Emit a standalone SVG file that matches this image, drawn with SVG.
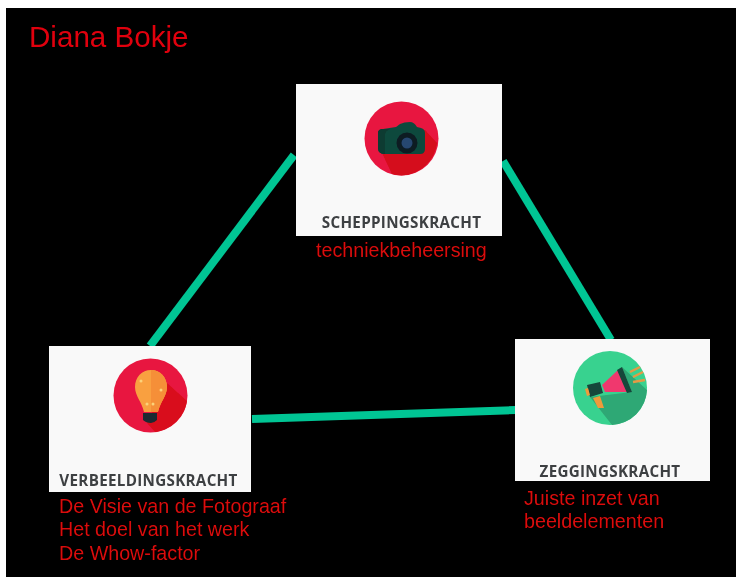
<svg xmlns="http://www.w3.org/2000/svg" width="736" height="577" viewBox="0 0 736 577">
<style>
.card{fill:#f9f9f9}
.lab{font:700 15.2px "Open Sans",sans-serif;fill:#3d3f42;letter-spacing:.3px}
.red{font:19.7px "Liberation Sans",Arial,sans-serif;fill:#d90a0a}
.link{stroke:#04c594;stroke-width:8;fill:none}
</style>
<defs><filter id="soft" x="0" y="0" width="100%" height="100%" filterUnits="objectBoundingBox"><feGaussianBlur stdDeviation="0.45"/></filter></defs>
<rect width="736" height="577" fill="#fff"/>
<rect x="6" y="8" width="730" height="569" fill="#000"/>
<g filter="url(#soft)">
<g id="connectors">
<line class="link" x1="294" y1="155" x2="150" y2="346"/>
<line class="link" x1="503" y1="161" x2="611" y2="340"/>
<line class="link" x1="252" y1="419" x2="516" y2="410"/>
</g>
<text id="title" x="29" y="47" font-family="Liberation Sans,Arial,sans-serif" font-size="29.6" fill="#e0060f">Diana Bokje</text>
<g id="scheppingskracht">
<rect class="card" x="296" y="84" width="206" height="152"/>
<circle cx="401.500" cy="138.500" r="37" fill="#e8183f"/>
<path d="M382 153L425 130L437 143A37 37 0 0 1 401.500 175.500A37 37 0 0 1 392 174Z" fill="#d5091a"/>
<path d="M378 133Q378 129 383 129L396 127L400 124Q404 122 410 122Q414 122 417 127L421 128Q425 129 425 133V149Q425 154 420 154H385Q378 154 378 148Z" fill="#0f4a3d"/>
<path d="M378 133Q378 129 383 129H390Q385 131 385 135V154Q378 154 378 148Z" fill="#0b3a30"/>
<circle cx="407" cy="143" r="10.500" fill="#0c1c24"/>
<circle cx="407" cy="143" r="5.500" fill="#26466f"/>
<text class="lab" x="401.500" y="228" text-anchor="middle">SCHEPPINGSKRACHT</text>
<text class="red" x="316" y="257">techniekbeheersing</text>
</g>
<g id="verbeeldingskracht">
<rect class="card" x="49" y="346" width="202" height="146"/>
<circle cx="150.500" cy="395.500" r="37" fill="#e8183f"/>
<path d="M167 383L187 401A37 37 0 0 1 155 432L147 423Z" fill="#d90f1a"/>
<path d="M151 370C160 370 167 377 167 387C167 396 160 402 158 412H144C142 402 135 396 135 387C135 377 142 370 151 370Z" fill="#f9a040"/>
<path d="M151 370C160 370 167 377 167 387C167 396 160 402 158 412H151Z" fill="#f58f38"/>
<g fill="#fbd27a"><circle cx="141" cy="381" r="1.500"/><circle cx="161" cy="390" r="1.500"/><circle cx="147" cy="404" r="1.500"/><circle cx="153" cy="404" r="1.500"/></g>
<path d="M143 413H157V420Q154 423 151 423Q146 423 143 420Z" fill="#1f2a30"/>
<text class="lab" x="148.500" y="486" text-anchor="middle">VERBEELDINGSKRACHT</text>
<text class="red" x="59" y="513">De Visie van de Fotograaf</text>
<text class="red" x="59" y="536">Het doel van het werk</text>
<text class="red" x="59" y="560">De Whow-factor</text>
</g>
<g id="zeggingskracht">
<rect class="card" x="515" y="339" width="195" height="142"/>
<circle cx="610" cy="388" r="37" fill="#39d28f"/>
<path d="M590 397L632 392L622 367L647 390A37 37 0 0 1 612 425Z" fill="#2fa874"/>
<path d="M602 385L618 370L627 392L605 392Z" fill="#f0386e"/>
<path d="M617 370L622 367L632 392L627 393Z" fill="#14463a"/>
<path d="M587 385L600 382L603 393L590 397Z" fill="#14463a"/>
<path d="M593 398L600 396L604 408L598 408Z" fill="#f09a3a"/>
<path d="M585 389L588 388L590 395L587 396Z" fill="#f09a3a"/>
<path d="M630 372L640 367M633 377L643 372M633 382L645 380" stroke="#e49a45" stroke-width="2.500" fill="none"/>
<text class="lab" x="610" y="477" text-anchor="middle">ZEGGINGSKRACHT</text>
<text class="red" x="524" y="505">Juiste inzet van</text>
<text class="red" x="524" y="528">beeldelementen</text>
</g>
</g>
</svg>
